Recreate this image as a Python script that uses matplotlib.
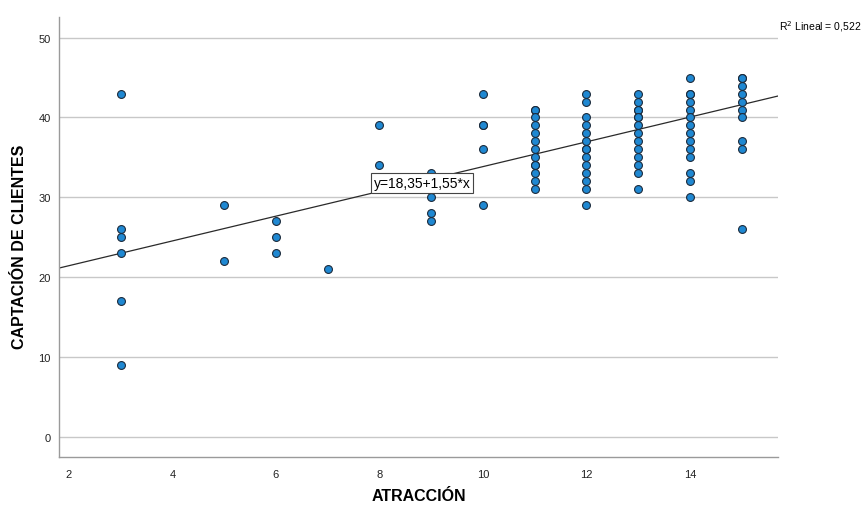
import matplotlib.pyplot as plt

plt.rcParams['font.family'] = ['Liberation Sans', 'DejaVu Sans']

# values, one list per x column
atraccion_vals = [3, 5, 6, 7, 8, 9, 10, 11, 12, 13, 14, 15]
captacion_vals = [
    [43, 26, 25, 23, 17, 9],
    [29, 22],
    [27, 25, 23],
    [21],
    [39, 34],
    [33, 30, 28, 27],
    [43, 39, 39, 36, 29],
    [41, 41, 40, 39, 38, 37, 36, 35, 34, 34, 33, 32, 31],
    [43, 42, 40, 39, 38, 37, 36, 36, 35, 34, 33, 32, 31, 29],
    [43, 42, 41, 41, 40, 40, 39, 38, 37, 36, 35, 34, 33, 31],
    [45, 43, 43, 42, 41, 40, 39, 38, 37, 36, 35, 33, 32, 30],
    [45, 45, 44, 43, 42, 41, 40, 37, 36, 26],
]
intercept = 18.35
slope = 1.55
r2_text = "R$^2$ Lineal = 0,522"
eq_text = "y=18,35+1,55*x"

x = []
y = []
for xv, col in zip(atraccion_vals, captacion_vals):
    for yv in col:
        x.append(xv)
        y.append(yv)

fig = plt.figure(figsize=(8.64, 5.10), dpi=100)
ax = fig.add_axes([0.0683, 0.102, 0.832, 0.863])

xmin, xmax = 1.807, 15.70
ax.set_xlim(xmin, xmax)
ax.set_ylim(-2.5, 52.6)

ax.set_yticks([0, 10, 20, 30, 40, 50])
ax.set_xticks([2, 4, 6, 8, 10, 12, 14])
ax.grid(axis='y', color='#c8c8c8', linewidth=1.0)
ax.set_axisbelow(True)

for s in ['top', 'right']:
    ax.spines[s].set_visible(False)
for s in ['left', 'bottom']:
    ax.spines[s].set_color('#9a9a9a')
    ax.spines[s].set_linewidth(1.0)
ax.tick_params(axis='y', length=0, labelsize=8, colors='#222222', pad=6)
ax.tick_params(axis='x', length=0, labelsize=8, colors='#222222', pad=9)

# fit line
ax.plot([xmin, xmax], [intercept + slope * xmin, intercept + slope * xmax],
        color='#2a2a2a', linewidth=0.9, zorder=2)

ax.scatter(x, y, s=32, color='#1f88d2', edgecolor='#1c2b3c', linewidth=0.8, zorder=3)

ax.text(8.82, 31.8, eq_text, fontsize=10, ha='center', va='center', zorder=4,
        bbox=dict(boxstyle='square,pad=0.2', facecolor='white', edgecolor='#444444', linewidth=0.8))

fig.text(0.902, 0.948, r2_text, fontsize=7.5, ha='left', va='center')

ax.set_xlabel('ATRACCIÓN', fontsize=11.5, fontweight='bold')
ax.set_ylabel('CAPTACIÓN DE CLIENTES', fontsize=11.5, fontweight='bold')
ax.xaxis.set_label_coords(0.50, -0.071)
ax.yaxis.set_label_coords(-0.045, 0.48)

plt.savefig('out.png', dpi=100)
